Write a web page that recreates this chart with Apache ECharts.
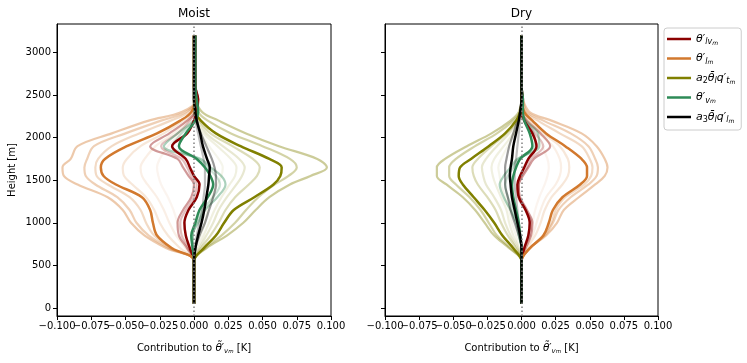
<!DOCTYPE html>
<html>
<head>
<meta charset="utf-8">
<script src="https://cdn.jsdelivr.net/npm/echarts@6/dist/echarts.min.js"></script>
<style>
html, body { margin: 0; padding: 0; background: #fff; }
#chart { width: 747px; height: 363px; }
</style>
</head>
<body>
<div id="chart"></div>
<script>
// profile levels [m]
const heights = [50, 550, 700, 850, 1000, 1150, 1300, 1450, 1550, 1650, 1750, 1900, 2050, 2200, 2300, 2450, 2600, 3200];
const xTicks = [-0.1, -0.075, -0.05, -0.025, 0, 0.025, 0.05, 0.075, 0.1];
const yTicks = [0, 500, 1000, 1500, 2000, 2500, 3000];

// ---- Moist ----
const moistRedBold = [0, 0, -0.003, -0.006, -0.007, -0.004, 0.002, 0.004, 0.000, -0.003, -0.006, -0.016, -0.005, 0.000, 0.002, 0.003, 0.001, 0.001];
const moistRedFaint = [
  [0, 0, -0.005, -0.011, -0.012, -0.008, -0.002, 0.000, -0.004, -0.008, -0.012, -0.032, -0.018, -0.005, 0.001, 0.003, 0.001, 0.001],
  [0, 0, -0.004, -0.009, -0.010, -0.006, 0.000, 0.002, -0.002, -0.005, -0.009, -0.024, -0.012, -0.003, 0.001, 0.002, 0.001, 0]
];
const moistOrangeBold = [0, 0, -0.016, -0.027, -0.030, -0.032, -0.038, -0.057, -0.066, -0.068, -0.065, -0.049, -0.027, -0.010, -0.002, 0.001, 0, 0];
const moistOrangeFaint = [
  [0, 0, -0.020, -0.036, -0.046, -0.052, -0.063, -0.085, -0.095, -0.096, -0.090, -0.085, -0.060, -0.033, -0.009, 0.002, 0.001, 0],
  [0, 0, -0.018, -0.033, -0.042, -0.047, -0.056, -0.072, -0.079, -0.080, -0.078, -0.073, -0.050, -0.024, -0.006, 0.002, 0.001, 0],
  [0, 0, -0.017, -0.029, -0.035, -0.039, -0.047, -0.063, -0.071, -0.072, -0.070, -0.060, -0.040, -0.017, -0.004, 0.001, 0, 0],
  [0, 0, -0.010, -0.019, -0.025, -0.029, -0.035, -0.045, -0.051, -0.052, -0.049, -0.039, -0.022, -0.008, -0.001, 0.001, 0, 0],
  [0, 0, -0.006, -0.013, -0.018, -0.022, -0.027, -0.034, -0.038, -0.039, -0.036, -0.028, -0.015, -0.005, -0.001, 0, 0, 0],
  [0, 0, -0.004, -0.008, -0.012, -0.015, -0.019, -0.024, -0.026, -0.027, -0.025, -0.019, -0.010, -0.003, 0, 0, 0, 0]
];
const moistOliveBold = [0, 0, 0.007, 0.016, 0.022, 0.029, 0.044, 0.058, 0.063, 0.064, 0.055, 0.034, 0.016, 0.005, 0.001, 0, 0, 0];
const moistOliveFaint = [
  [0, 0, 0.009, 0.024, 0.036, 0.045, 0.055, 0.070, 0.085, 0.097, 0.090, 0.062, 0.038, 0.018, 0.006, 0.001, 0, 0],
  [0, 0, 0.008, 0.020, 0.030, 0.038, 0.047, 0.059, 0.069, 0.075, 0.070, 0.050, 0.027, 0.010, 0.003, 0.001, 0, 0],
  [0, 0, 0.005, 0.012, 0.018, 0.023, 0.030, 0.040, 0.046, 0.048, 0.043, 0.028, 0.012, 0.004, 0.001, 0, 0, 0],
  [0, 0, 0.004, 0.009, 0.014, 0.018, 0.024, 0.031, 0.035, 0.037, 0.033, 0.021, 0.009, 0.003, 0, 0, 0, 0],
  [0, 0, 0.003, 0.007, 0.011, 0.015, 0.020, 0.026, 0.030, 0.031, 0.027, 0.017, 0.007, 0.002, 0, 0, 0, 0],
  [0, 0, 0.002, 0.005, 0.008, 0.010, 0.013, 0.017, 0.020, 0.021, 0.018, 0.011, 0.005, 0.001, 0, 0, 0, 0]
];
const moistGreenBold = [0, 0, -0.001, -0.002, 0.001, 0.004, 0.010, 0.014, 0.012, 0.008, 0.002, -0.011, -0.006, 0.001, 0.003, 0.002, 0.001, 0.001];
const moistGreenFaint = [
  [0, 0, -0.001, -0.001, 0.003, 0.008, 0.017, 0.023, 0.020, 0.012, 0.005, -0.022, -0.012, 0.000, 0.003, 0.002, 0.001, 0.001],
  [0, 0, -0.001, -0.001, 0.002, 0.006, 0.014, 0.019, 0.016, 0.010, 0.003, -0.016, -0.009, 0.000, 0.003, 0.002, 0.001, 0.001]
];
const moistBlackBold = [0, 0, 0.001, 0.003, 0.0055, 0.0075, 0.009, 0.0105, 0.011, 0.0115, 0.0095, 0.0065, 0.0045, 0.002, 0.001, 0, 0, 0];
const moistBlackFaint = [
  [0, 0, 0.001, 0.004, 0.008, 0.011, 0.014, 0.016, 0.016, 0.015, 0.013, 0.009, 0.005, 0.002, 0.001, 0, 0, 0.001],
  [0, 0, 0.001, 0.002, 0.004, 0.006, 0.007, 0.008, 0.008, 0.008, 0.007, 0.005, 0.003, 0.001, 0, 0, 0, 0]
];

// ---- Dry ----
const dryRedBold = [0, 0, 0.002, 0.005, 0.006, 0.003, -0.002, -0.003, -0.001, 0.002, 0.005, 0.011, 0.008, 0.002, 0.000, 0.001, 0, 0];
const dryRedFaint = [
  [0, 0, 0.003, 0.007, 0.008, 0.004, -0.001, -0.002, 0.001, 0.005, 0.009, 0.021, 0.014, 0.004, 0.000, 0.001, 0, 0],
  [0, 0, 0.002, 0.006, 0.007, 0.003, -0.002, -0.002, 0.000, 0.004, 0.007, 0.016, 0.010, 0.003, 0.000, 0, 0, 0]
];
const dryOrangeBold = [0, 0, 0.006, 0.016, 0.020, 0.023, 0.030, 0.043, 0.048, 0.048, 0.044, 0.032, 0.018, 0.008, 0.002, 0, 0, 0];
const dryOrangeFaint = [
  [0, 0, 0.006, 0.018, 0.026, 0.031, 0.042, 0.054, 0.061, 0.063, 0.061, 0.055, 0.044, 0.022, 0.006, 0.001, 0, 0],
  [0, 0, 0.006, 0.017, 0.023, 0.027, 0.036, 0.049, 0.055, 0.056, 0.054, 0.049, 0.036, 0.016, 0.004, 0.001, 0, 0],
  [0, 0, 0.006, 0.016, 0.022, 0.025, 0.032, 0.046, 0.051, 0.052, 0.050, 0.044, 0.028, 0.012, 0.003, 0, 0, 0],
  [0, 0, 0.004, 0.010, 0.014, 0.017, 0.022, 0.030, 0.034, 0.035, 0.034, 0.028, 0.016, 0.006, 0.001, 0, 0, 0],
  [0, 0, 0.003, 0.008, 0.011, 0.014, 0.018, 0.025, 0.028, 0.029, 0.028, 0.023, 0.013, 0.005, 0.001, 0, 0, 0],
  [0, 0, 0.002, 0.005, 0.008, 0.010, 0.013, 0.017, 0.019, 0.020, 0.019, 0.015, 0.008, 0.003, 0, 0, 0, 0]
];
const dryOliveBold = [0, 0, -0.006, -0.014, -0.020, -0.027, -0.035, -0.043, -0.046, -0.045, -0.037, -0.024, -0.012, -0.004, -0.001, 0, 0, 0];
const dryOliveFaint = [
  [0, 0, -0.009, -0.020, -0.027, -0.034, -0.043, -0.055, -0.062, -0.062, -0.056, -0.040, -0.022, -0.008, -0.002, 0, 0, 0],
  [0, 0, -0.008, -0.018, -0.024, -0.030, -0.038, -0.048, -0.053, -0.053, -0.048, -0.034, -0.018, -0.006, -0.001, 0, 0, 0],
  [0, 0, -0.004, -0.010, -0.015, -0.019, -0.025, -0.032, -0.035, -0.036, -0.032, -0.022, -0.011, -0.003, -0.001, 0, 0, 0],
  [0, 0, -0.003, -0.008, -0.012, -0.015, -0.020, -0.026, -0.028, -0.029, -0.026, -0.018, -0.009, -0.003, 0, 0, 0, 0],
  [0, 0, -0.002, -0.006, -0.009, -0.011, -0.015, -0.019, -0.021, -0.022, -0.020, -0.013, -0.006, -0.002, 0, 0, 0, 0],
  [0, 0, -0.002, -0.004, -0.007, -0.009, -0.012, -0.015, -0.016, -0.017, -0.015, -0.010, -0.005, -0.001, 0, 0, 0, 0]
];
const dryGreenBold = [0, 0, 0.000, -0.001, -0.002, -0.004, -0.006, -0.007, -0.006, -0.004, -0.001, 0.008, 0.006, 0.002, 0.001, 0.001, 0, 0];
const dryGreenFaint = [
  [0, 0, 0.000, -0.002, -0.004, -0.008, -0.013, -0.016, -0.013, -0.008, -0.003, 0.013, 0.012, 0.003, 0.001, 0.001, 0, 0],
  [0, 0, 0.000, -0.001, -0.003, -0.006, -0.010, -0.012, -0.010, -0.006, -0.002, 0.010, 0.009, 0.002, 0.001, 0, 0, 0]
];
const dryBlackBold = [0, 0, 0.000, -0.001, -0.003, -0.005, -0.007, -0.008, -0.0085, -0.008, -0.007, -0.006, -0.004, -0.002, -0.001, 0, 0, 0];
const dryBlackFaint = [
  [0, 0, 0, -0.002, -0.005, -0.008, -0.010, -0.012, -0.012, -0.012, -0.011, -0.009, -0.006, -0.003, -0.001, 0, 0, 0],
  [0, 0, 0, -0.001, -0.002, -0.003, -0.004, -0.005, -0.005, -0.005, -0.004, -0.003, -0.002, -0.001, 0, 0, 0, 0]
];

// transparency of the faint runs
const wideAlpha = [0.4, 0.35, 0.28, 0.18, 0.12, 0.08];
const narrowAlpha = [0.4, 0.25];

const COLORS = { red: '#8b0000', orange: '#d2792e', olive: '#808000', green: '#2e8b57', black: '#000000' };
const FONT = '"DejaVu Sans", "Noto Sans", sans-serif';

const legendNames = ['thlv', 'thl', 'a2', 'thv', 'a3'];
const legendLabels = {
  thlv: '{i|θ}{n|′}{s|lv}{ss|m}',
  thl: '{i|θ}{n|′}{s|l}{ss|m}',
  a2: '{i|a}{sn|2}{i|θ\u0304}{s|l}{i|q}{n|′}{s|t}{ss|m}',
  thv: '{i|θ}{n|′}{s|v}{ss|m}',
  a3: '{i|a}{sn|3}{i|θ\u0304}{s|l}{i|q}{n|′}{s|l}{ss|m}'
};
const mathRich = {
  n: { fontSize: 11, fontFamily: FONT, color: '#000', lineHeight: 14 },
  i: { fontSize: 11, fontFamily: FONT, fontStyle: 'italic', color: '#000', lineHeight: 14 },
  s: { fontSize: 8, fontFamily: FONT, fontStyle: 'italic', color: '#000', verticalAlign: 'bottom', lineHeight: 8 },
  sn: { fontSize: 8, fontFamily: FONT, color: '#000', verticalAlign: 'bottom', lineHeight: 8 },
  ss: { fontSize: 6, fontFamily: FONT, fontStyle: 'italic', color: '#000', verticalAlign: 'bottom', lineHeight: 5 }
};
const nameRich = {
  n: { fontSize: 10, fontFamily: FONT, color: '#000', lineHeight: 14 },
  i: { fontSize: 10.5, fontFamily: FONT, fontStyle: 'italic', color: '#000', lineHeight: 14 },
  s: { fontSize: 7, fontFamily: FONT, fontStyle: 'italic', color: '#000', verticalAlign: 'bottom', lineHeight: 7 },
  ss: { fontSize: 5.5, fontFamily: FONT, fontStyle: 'italic', color: '#000', verticalAlign: 'bottom', lineHeight: 4 }
};

const panels = [
  [
    { key: 'thlv', color: COLORS.red, bold: moistRedBold, faint: moistRedFaint, alpha: narrowAlpha },
    { key: 'thl', color: COLORS.orange, bold: moistOrangeBold, faint: moistOrangeFaint, alpha: wideAlpha },
    { key: 'a2', color: COLORS.olive, bold: moistOliveBold, faint: moistOliveFaint, alpha: wideAlpha },
    { key: 'thv', color: COLORS.green, bold: moistGreenBold, faint: moistGreenFaint, alpha: narrowAlpha },
    { key: 'a3', color: COLORS.black, bold: moistBlackBold, faint: moistBlackFaint, alpha: narrowAlpha }
  ],
  [
    { key: 'thlv', color: COLORS.red, bold: dryRedBold, faint: dryRedFaint, alpha: narrowAlpha },
    { key: 'thl', color: COLORS.orange, bold: dryOrangeBold, faint: dryOrangeFaint, alpha: wideAlpha },
    { key: 'a2', color: COLORS.olive, bold: dryOliveBold, faint: dryOliveFaint, alpha: wideAlpha },
    { key: 'thv', color: COLORS.green, bold: dryGreenBold, faint: dryGreenFaint, alpha: narrowAlpha },
    { key: 'a3', color: COLORS.black, bold: dryBlackBold, faint: dryBlackFaint, alpha: narrowAlpha }
  ]
];

function profile(vals, idx, name, color, alpha, width, z) {
  return {
    type: 'line',
    name: name,
    xAxisIndex: idx,
    yAxisIndex: idx,
    data: heights.map((h, i) => [vals[i], h]),
    symbol: 'none',
    smooth: 0.35,
    silent: true,
    z: z,
    lineStyle: { color: color, width: width, opacity: alpha },
    itemStyle: { color: color }
  };
}

const series = [];
panels.forEach((fams, p) => {
  fams.forEach(f => {
    f.faint.forEach((vals, k) => {
      series.push(profile(vals, p, '_' + p + f.key + k, f.color, f.alpha[k], 2.2, 2));
    });
  });
  fams.forEach(f => {
    series.push(profile(f.bold, p, f.key, f.color, 1, 2.5, 3));
  });
  // dotted zero line on top
  series[series.length - 1].markLine = {
    silent: true,
    symbol: 'none',
    label: { show: false },
    lineStyle: { color: '#808080', width: 1.5, type: [1.5, 2.5] },
    data: [{ xAxis: 0 }],
    z: 10
  };
});

function xFmt(v) {
  const s = Math.abs(v).toFixed(3);
  return v < -1e-9 ? '\u2212' + s : s;
}

// the tick labels overlap in the original; ECharts would drop some of them,
// so every other label goes on a second, otherwise invisible axis
const xLabelsA = xTicks.filter((v, i) => i % 2 === 0);
const xLabelsB = xTicks.filter((v, i) => i % 2 === 1);

function xAxis(idx, alt) {
  return {
    type: 'value',
    gridIndex: idx,
    position: 'bottom',
    offset: 0,
    min: -0.1,
    max: 0.1,
    interval: 0.025,
    name: alt ? '' : '{n|Contribution to }{i|θ\u0303}{n|′}{s|v}{ss|m}{n| [K]}',
    nameLocation: 'middle',
    nameGap: 25,
    nameTextStyle: { rich: nameRich },
    axisLine: { show: !alt, onZero: false, lineStyle: { color: '#000', width: 1 } },
    axisTick: { show: !alt, length: 4, lineStyle: { color: '#000' }, customValues: xTicks },
    axisLabel: { show: true, margin: 5, color: '#000', fontSize: 10, fontFamily: FONT, formatter: xFmt,
      customValues: alt ? xLabelsB : xLabelsA, hideOverlap: false, showMinLabel: true, showMaxLabel: true },
    splitLine: { show: false }
  };
}

function yAxis(idx) {
  return {
    type: 'value',
    gridIndex: idx,
    min: -95,
    max: 3335,
    name: idx === 0 ? 'Height [m]' : '',
    nameLocation: 'middle',
    nameGap: 40,
    nameRotate: 90,
    nameTextStyle: { color: '#000', fontSize: 10, fontFamily: FONT },
    axisLine: { show: true, onZero: false, lineStyle: { color: '#000', width: 1 } },
    axisTick: { show: true, length: 4, lineStyle: { color: '#000' }, customValues: yTicks },
    axisLabel: { show: idx === 0, margin: 6, color: '#000', fontSize: 10, fontFamily: FONT,
      customValues: yTicks, formatter: v => String(v) },
    splitLine: { show: false }
  };
}

const chart = echarts.init(document.getElementById('chart'), null, { renderer: 'canvas' });
chart.setOption({
  animation: false,
  backgroundColor: '#fff',
  grid: [
    { left: 57, top: 24, width: 274, height: 292, show: true, borderColor: '#000', borderWidth: 1, outerBoundsMode: 'none' },
    { left: 385, top: 24, width: 273, height: 292, show: true, borderColor: '#000', borderWidth: 1, outerBoundsMode: 'none' }
  ],
  xAxis: [xAxis(0, false), xAxis(1, false), xAxis(0, true), xAxis(1, true)],
  yAxis: [yAxis(0), yAxis(1)],
  graphic: [
    { type: 'text', x: 194, y: 14, style: { text: 'Moist', fontSize: 12, fontFamily: FONT, fill: '#000', align: 'center', verticalAlign: 'middle' } },
    { type: 'text', x: 521.5, y: 14, style: { text: 'Dry', fontSize: 12, fontFamily: FONT, fill: '#000', align: 'center', verticalAlign: 'middle' } }
  ],
  legend: {
    data: legendNames,
    orient: 'vertical',
    left: 664,
    top: 28,
    padding: [4, 6, 6, 3],
    icon: 'rect',
    itemWidth: 24,
    itemHeight: 2.5,
    itemGap: 5.5,
    backgroundColor: '#fff',
    borderColor: '#cccccc',
    borderWidth: 1,
    borderRadius: 3,
    selectedMode: false,
    formatter: name => legendLabels[name],
    textStyle: { rich: mathRich, lineHeight: 14 }
  },
  series: series
});
</script>
</body>
</html>
